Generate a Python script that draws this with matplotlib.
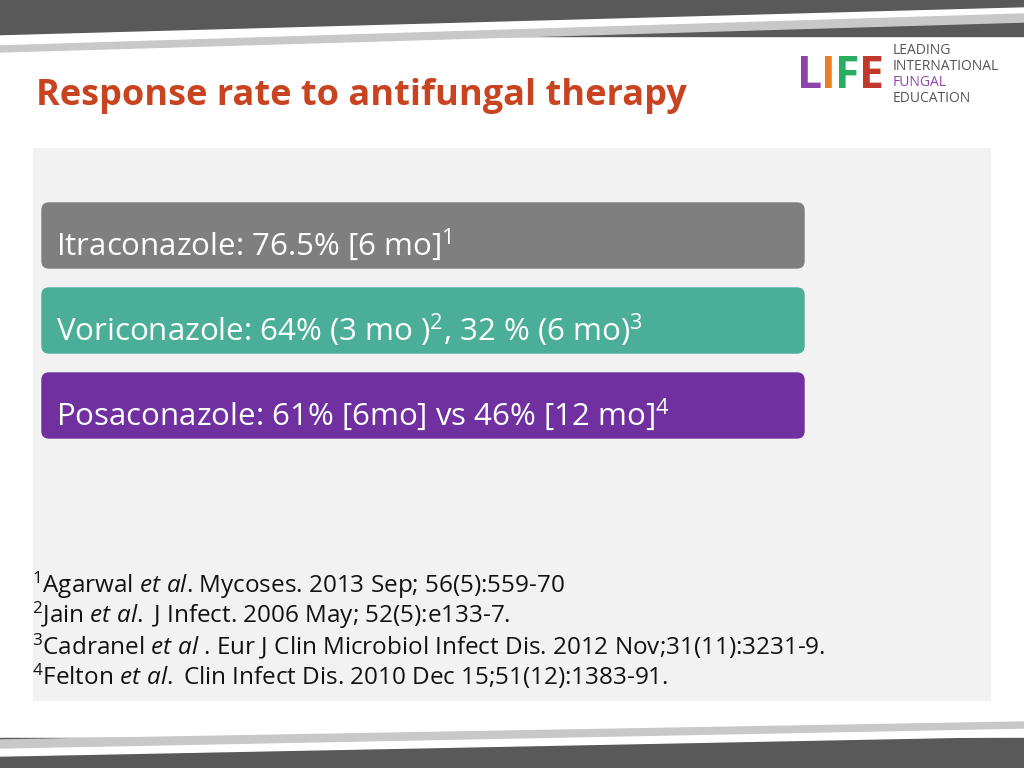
import matplotlib
matplotlib.use("Agg")
import matplotlib.pyplot as plt
from matplotlib.patches import FancyBboxPatch, Rectangle, Polygon

plt.rcParams['font.family'] = ['Open Sans', 'DejaVu Sans']
plt.rcParams['mathtext.fontset'] = 'custom'
plt.rcParams['mathtext.rm'] = 'Open Sans'
plt.rcParams['mathtext.it'] = 'Open Sans:italic'

title = "Response rate to antifungal therapy"
rows = [r"Itraconazole: 76.5% [6 mo]$^{1}$",
        r"Voriconazole: 64% (3 mo )$^{2}$, 32 % (6 mo)$^{3}$",
        r"Posaconazole: 61% [6mo] vs 46% [12 mo]$^{4}$"]
row_colors = ["#7f7f7f", "#4aae99", "#7030a0"]
refs = [r"$^{1}$Agarwal $\mathit{et\ al}$. Mycoses. 2013 Sep; 56(5):559-70",
        r"$^{2}$Jain $\mathit{et\ al.}$ J Infect. 2006 May; 52(5):e133-7.",
        r"$^{3}$Cadranel $\mathit{et\ al}$ . Eur J Clin Microbiol Infect Dis. 2012 Nov;31(11):3231-9.",
        r"$^{4}$Felton $\mathit{et\ al.}$ Clin Infect Dis. 2010 Dec 15;51(12):1383-91."]

fig = plt.figure(figsize=(10.24, 7.68), dpi=100)
ax = fig.add_axes([0, 0, 1, 1])
ax.set_xlim(0, 1024); ax.set_ylim(768, 0); ax.axis('off')

# top / bottom bands
ax.add_patch(Rectangle((0, 0), 1024, 36, color="#595959"))
ax.add_patch(Polygon([(0, 36), (1024, 8), (1024, 14), (0, 46)], color="white"))
ax.add_patch(Polygon([(0, 46), (1024, 14), (1024, 22), (0, 52)], color="#c8c8c8"))
ax.add_patch(Rectangle((0, 738), 1024, 30, color="#595959"))
ax.add_patch(Polygon([(0, 748), (1024, 728), (1024, 736), (0, 756)], color="white"))
ax.add_patch(Polygon([(0, 740), (1024, 722), (1024, 728), (0, 748)], color="#c8c8c8"))

ax.text(36, 96, title, color="#c8431f", fontsize=26, fontweight='bold', va='center')

# logo
for ch, c, x in zip("LIFE", ["#8e44ad", "#e67e22", "#27ae60", "#c0392b"], [797, 821, 835, 859]):
    ax.text(x, 76, ch, color=c, fontsize=32, fontweight='bold', va='center')
for j, (t, c) in enumerate(zip(["LEADING", "INTERNATIONAL", "FUNGAL", "EDUCATION"],
                               ["#555555", "#555555", "#8e44ad", "#555555"])):
    ax.text(893, 51 + j * 16, t, color=c, fontsize=10, va='center')

ax.add_patch(Rectangle((33, 148), 957, 552, color="#f2f2f2"))

for i, (t, c) in enumerate(zip(rows, row_colors)):
    y0 = 203 + i * 85
    ax.add_patch(FancyBboxPatch((42, y0), 762, 65, boxstyle="round,pad=0,rounding_size=7",
                                color=c, mutation_aspect=1))
    ax.text(56, y0 + 42, t, color="white", fontsize=22.5, va='center')

for i, t in enumerate(refs):
    ax.text(32, 585 + i * 30.5, t, color="#111111", fontsize=17.5, va='center')

fig.savefig("out.png", dpi=100)
